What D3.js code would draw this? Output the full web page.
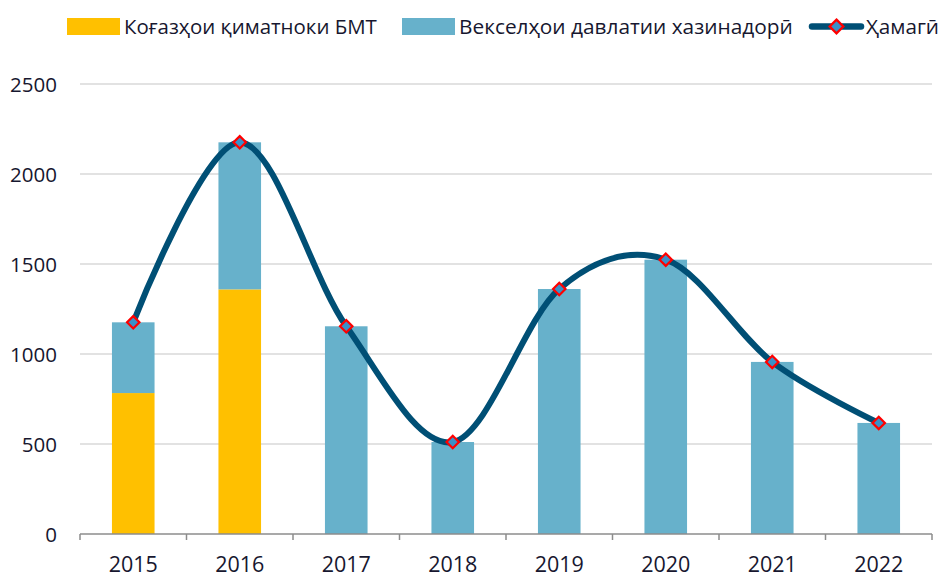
<!DOCTYPE html>
<html><head><meta charset="utf-8">
<script src="https://cdn.jsdelivr.net/npm/d3@7"></script>
<style>body{margin:0;background:#fff}svg{display:block}</style>
</head><body><svg id="c" width="946" height="578"></svg>
<script>
const years = ["2015","2016","2017","2018","2019","2020","2021","2022"];
const bmtPapers = [783, 1359, 0, 0, 0, 0, 0, 0];
const treasuryBills = [393, 817, 1154, 511, 1361, 1524, 956, 617];
const totals = [1176, 2176, 1154, 511, 1361, 1524, 956, 617];
const yTicks = [0, 500, 1000, 1500, 2000, 2500];
const seriesNames = ["Коғазҳои қиматноки БМТ", "Векселҳои давлатии хазинадорӣ", "Ҳамагӣ"];

const svg = d3.select("#c");
const L = 80, R = 932, T = 84, B = 534;
const font = "'Open Sans', 'Noto Sans', sans-serif";
const txt = "#17172f";

const x = d3.scaleBand().domain(years).range([L, R]).paddingInner(0.6).paddingOuter(0.3);
const y = d3.scaleLinear().domain([0, 2500]).range([B, T]);

// grid
svg.append("g").selectAll("line").data(yTicks.filter(d => d > 0)).join("line")
  .attr("x1", L).attr("x2", R).attr("y1", d => y(d)).attr("y2", d => y(d))
  .attr("stroke", "#d9d9d9").attr("stroke-width", 1.5);

// y labels
const yAxis = d3.axisLeft(y).tickValues(yTicks).tickFormat(d3.format("d")).tickSize(0).tickPadding(0);
const ga = svg.append("g").attr("transform", `translate(${L - 23},0)`).call(yAxis);
ga.select(".domain").remove();
ga.selectAll("text").attr("font-family", font).attr("font-size", 20.5).attr("fill", txt).attr("dy", "0.36em");

// bars
const stackData = years.map((yr, i) => ({year: yr, a: bmtPapers[i], b: treasuryBills[i]}));
const stack = d3.stack().keys(["a", "b"])(stackData);
const colors = ["#FFC000", "#67B1CB"];
svg.append("g").selectAll("g").data(stack).join("g").attr("fill", (d, i) => colors[i])
  .selectAll("rect").data(d => d).join("rect")
  .attr("x", d => x(d.data.year)).attr("width", x.bandwidth())
  .attr("y", d => y(d[1])).attr("height", d => y(d[0]) - y(d[1]));

// x axis
const xb = d3.scaleLinear().domain([0, years.length]).range([L, R]);
const gx = svg.append("g").attr("transform", `translate(0,${B})`);
gx.append("line").attr("x1", L).attr("x2", R).attr("stroke", "#8c8c8c").attr("stroke-width", 1.5);
gx.selectAll("line.t").data(d3.range(years.length + 1)).join("line").attr("class", "t")
  .attr("x1", d => xb(d)).attr("x2", d => xb(d)).attr("y1", 0).attr("y2", 6)
  .attr("stroke", "#8c8c8c").attr("stroke-width", 1.5);
gx.selectAll("text").data(years).join("text")
  .attr("x", d => x(d) + x.bandwidth() / 2).attr("y", 38).attr("text-anchor", "middle")
  .attr("font-family", font).attr("font-size", 21.5).attr("fill", txt).text(d => d);

// line
const cx = d => x(d) + x.bandwidth() / 2;
const line = d3.line().x((d, i) => cx(years[i])).y(d => y(d)).curve(d3.curveCardinal.tension(0));
svg.append("path").datum(totals).attr("d", line).attr("fill", "none")
  .attr("stroke", "#004F75").attr("stroke-width", 6).attr("stroke-linecap", "round");

const diamond = s => `M0,${-s}L${s},0L0,${s}L${-s},0Z`;
svg.append("g").selectAll("path").data(totals).join("path")
  .attr("transform", (d, i) => `translate(${cx(years[i])},${y(d)})`)
  .attr("d", diamond(6.2)).attr("fill", "#3A90C8").attr("stroke", "#FF0000").attr("stroke-width", 2.2);

// legend
const lg = svg.append("g").attr("font-family", font).attr("font-size", 20).attr("fill", txt);
function fit(sel, w) {
  const n = sel.node(); const cur = n.getComputedTextLength();
  if (cur > 0) sel.attr("font-size", 20 * w / cur);
}
lg.append("rect").attr("x", 67).attr("y", 18).attr("width", 53).attr("height", 17).attr("fill", colors[0]);
fit(lg.append("text").attr("x", 124).attr("y", 34).text(seriesNames[0]), 253);
lg.append("rect").attr("x", 402).attr("y", 18).attr("width", 53).attr("height", 17).attr("fill", colors[1]);
fit(lg.append("text").attr("x", 459).attr("y", 34).text(seriesNames[1]), 334);
lg.append("line").attr("x1", 812).attr("x2", 861).attr("y1", 26.5).attr("y2", 26.5)
  .attr("stroke", "#004F75").attr("stroke-width", 6.5).attr("stroke-linecap", "round");
lg.append("path").attr("transform", "translate(836.5,26.5)").attr("d", diamond(6.8))
  .attr("fill", "#3A90C8").attr("stroke", "#FF0000").attr("stroke-width", 2.4);
fit(lg.append("text").attr("x", 866).attr("y", 34).text(seriesNames[2]), 73);
</script></body></html>
